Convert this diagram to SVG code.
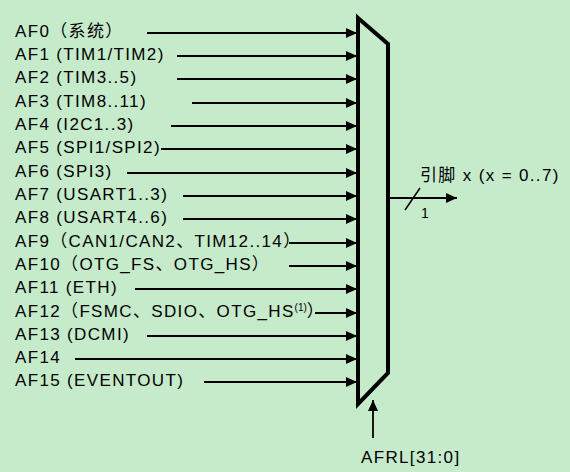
<svg xmlns="http://www.w3.org/2000/svg" width="570" height="472" viewBox="0 0 570 472">
<defs>
<marker id="ah" markerUnits="userSpaceOnUse" markerWidth="12" markerHeight="10" refX="11" refY="5" orient="auto">
<path d="M0,0 L11,5 L0,10 Z" fill="#000"/>
</marker>
<style>
.t{font-family:"Liberation Sans","Noto Sans CJK SC",sans-serif;font-size:17px;letter-spacing:1.35px;fill:#000}
.s{font-family:"Liberation Sans",sans-serif;font-size:10px;fill:#000}
.c{stroke:#000;stroke-width:1.8;fill:none;marker-end:url(#ah)}
</style>
</defs>
<rect width="570" height="472" fill="#C6EBCB"/>
<g id="labels">
<text class="t" x="15" y="37">AF0（系统）</text>
<text class="t" x="15" y="60">AF1 (TIM1/TIM2)</text>
<text class="t" x="15" y="83">AF2 (TIM3..5)</text>
<text class="t" x="15" y="107">AF3 (TIM8..11)</text>
<text class="t" x="15" y="130">AF4 (I2C1..3)</text>
<text class="t" x="15" y="153">AF5 (SPI1/SPI2)</text>
<text class="t" x="15" y="177">AF6 (SPI3)</text>
<text class="t" x="15" y="200">AF7 (USART1..3)</text>
<text class="t" x="15" y="223">AF8 (USART4..6)</text>
<text class="t" x="15" y="247">AF9（CAN1/CAN2、TIM12..14）</text>
<text class="t" x="15" y="270">AF10（OTG_FS、OTG_HS）</text>
<text class="t" x="15" y="293">AF11 (ETH)</text>
<text class="t" x="15" y="317">AF12（FSMC、SDIO、OTG_HS<tspan class="s" dy="-6" style="letter-spacing:0">(1)</tspan><tspan dy="6">）</tspan></text>
<text class="t" x="15" y="340">AF13 (DCMI)</text>
<text class="t" x="15" y="363">AF14</text>
<text class="t" x="15" y="386">AF15 (EVENTOUT)</text>
</g>
<g id="mux">
<polygon points="358,18 388,44 388,373 358,404" fill="none" stroke="#000" stroke-width="4" stroke-linejoin="miter"/>
</g>
<g id="output">
<text class="t" x="420" y="181">引脚 x (x = 0..7)</text>
<text x="421" y="218" style="font-family:'Liberation Sans',sans-serif;font-size:14px;fill:#000">1</text>
</g>
<g id="select">
<text class="t" x="361" y="463">AFRL[31:0]</text>
</g>
<g id="connectors">
<line class="c" x1="147" y1="33" x2="357" y2="33"/>
<line class="c" x1="177" y1="56" x2="357" y2="56"/>
<line class="c" x1="177" y1="79" x2="357" y2="79"/>
<line class="c" x1="192" y1="103" x2="357" y2="103"/>
<line class="c" x1="171" y1="126" x2="357" y2="126"/>
<line class="c" x1="161" y1="149" x2="357" y2="149"/>
<line class="c" x1="127" y1="173" x2="357" y2="173"/>
<line class="c" x1="183" y1="196" x2="357" y2="196"/>
<line class="c" x1="183" y1="219" x2="357" y2="219"/>
<line class="c" x1="289" y1="243" x2="357" y2="243"/>
<line class="c" x1="289" y1="266" x2="357" y2="266"/>
<line class="c" x1="135" y1="289" x2="357" y2="289"/>
<line class="c" x1="315" y1="313" x2="357" y2="313"/>
<line class="c" x1="147" y1="336" x2="357" y2="336"/>
<line class="c" x1="75" y1="359" x2="357" y2="359"/>
<line class="c" x1="204" y1="382" x2="357" y2="382"/>
<line class="c" x1="390" y1="198" x2="457" y2="198"/>
<line x1="405" y1="210" x2="420" y2="188" stroke="#000" stroke-width="1.5"/>
<line class="c" x1="373" y1="438" x2="373" y2="400"/>
</g>
</svg>
